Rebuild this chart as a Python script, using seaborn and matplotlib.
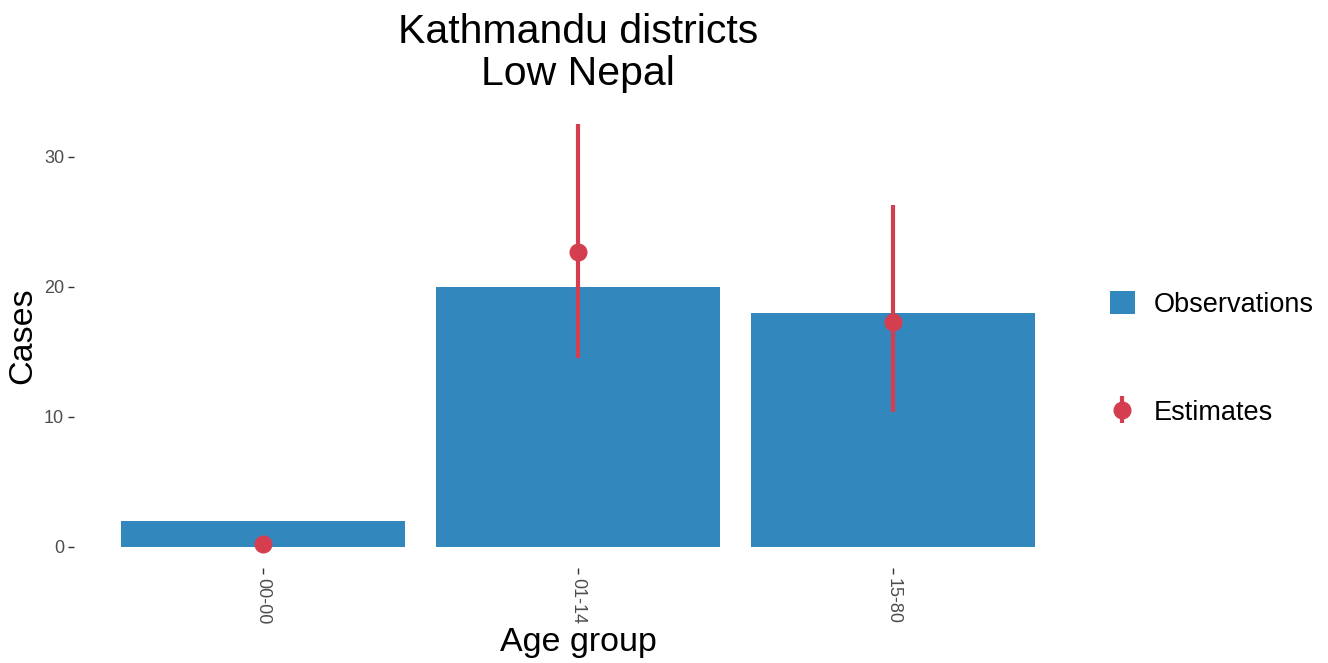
import numpy as np
import pandas as pd
import matplotlib
matplotlib.use("Agg")
import matplotlib.pyplot as plt
from matplotlib.patches import Patch
import seaborn as sns

# values
age_groups = ["00-00", "01-14", "15-80"]
observed = [2, 20, 18]
estimate = [0.2, 22.7, 17.3]
est_low = [0.1, 14.5, 10.4]
est_high = [0.4, 32.5, 26.3]

bar_color = "#3288BD"
est_color = "#D53E4F"

sns.set_theme(style="white")
plt.rcParams["font.family"] = ["Liberation Sans", "DejaVu Sans"]
plt.rcParams["text.color"] = "black"
plt.rcParams["axes.labelcolor"] = "black"

fig = plt.figure(figsize=(13.28, 6.63), dpi=100)
ax = fig.add_axes([0.0557, 0.1433, 0.7591, 0.7013])

df = pd.DataFrame({"age": age_groups, "obs": observed})
sns.barplot(data=df, x="age", y="obs", order=age_groups, color=bar_color,
            saturation=1, width=0.9, linewidth=0, ax=ax)

pos = np.arange(len(age_groups))
est = np.array(estimate)
yerr = [est - np.array(est_low), np.array(est_high) - est]
ebar = ax.errorbar(pos, est, yerr=yerr, fmt="o", color=est_color, ms=12,
                   elinewidth=3, capsize=0, zorder=3)

ax.set_xlim(-0.6, 2.6)
ax.set_ylim(-1.625, 34.125)
ax.set_yticks([0, 10, 20, 30])
for s in ax.spines.values():
    s.set_visible(False)
ax.grid(False)
ax.tick_params(axis="both", bottom=True, left=True, length=4, width=1,
               color="#333333", labelcolor="#4D4D4D", labelsize=13, pad=3,
               direction="out")
plt.setp(ax.get_xticklabels(), rotation=270, ha="center", va="top")

ax.set_xlabel("Age group", fontsize=24.5, labelpad=2)
ax.set_ylabel("Cases", fontsize=24.5, labelpad=4)
ax.set_title("Kathmandu districts\nLow Nepal", fontsize=29.5, pad=13,
             linespacing=1.12)

handles = [Patch(facecolor=bar_color, edgecolor="none"), ebar]
fig.legend(handles, ["Observations", "Estimates"], loc="center left",
           bbox_to_anchor=(0.836, 0.459), frameon=False, fontsize=19.5,
           labelspacing=3.0, handlelength=0.9, handleheight=0.9,
           handletextpad=0.7, borderpad=0, borderaxespad=0)

fig.savefig("out.png", dpi=100)
